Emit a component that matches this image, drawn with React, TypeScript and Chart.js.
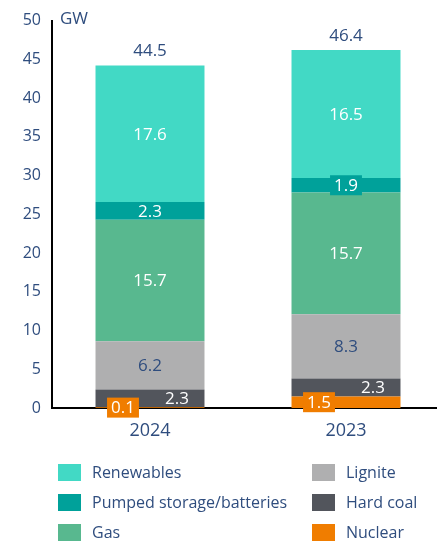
import React, { useEffect, useRef } from "react";
import { Chart, registerables } from "chart.js";

Chart.register(...registerables);

const categories = ["2024", "2023"];
const nuclear = [0.1, 1.5];
const hardCoal = [2.3, 2.3];
const lignite = [6.2, 8.3];
const gas = [15.7, 15.7];
const pumped = [2.3, 1.9];
const renewables = [17.6, 16.5];
const totals = [44.5, 46.4];
const seriesNames = ["Nuclear", "Hard coal", "Lignite", "Gas", "Pumped storage/batteries", "Renewables"];
const yMax = 50;
const yStep = 5;
const unitLabel = "GW";

const BLUE = "#2F4D7E";
const FONT = "'Open Sans', sans-serif";

const seriesValues = [nuclear, hardCoal, lignite, gas, pumped, renewables];
const seriesStyle = [
  { color: "#F07D00", text: "#FFFFFF", dx: -27, box: true },
  { color: "#52555C", text: "#FFFFFF", dx: 27, box: false },
  { color: "#AFAFB0", text: BLUE, dx: 0, box: false },
  { color: "#58B88F", text: "#FFFFFF", dx: 0, box: false },
  { color: "#00A19A", text: "#FFFFFF", dx: 0, box: true },
  { color: "#42D9C5", text: "#FFFFFF", dx: 0, box: false },
];

const labelPlugin = {
  id: "labels",
  afterDatasetsDraw(chart: any) {
    const ctx = chart.ctx;
    ctx.save();
    ctx.font = `17px ${FONT}`;
    ctx.textAlign = "center";
    ctx.textBaseline = "middle";
    chart.data.datasets.forEach((ds: any, i: number) => {
      const st = seriesStyle[i];
      const meta = chart.getDatasetMeta(i);
      meta.data.forEach((bar: any, j: number) => {
        const v = ds.data[j];
        const p = bar.getProps(["x", "y", "base"], true);
        const cx = p.x + st.dx;
        const cy = (p.y + p.base) / 2;
        const txt = v.toFixed(1);
        if (st.box && Math.abs(p.base - p.y) < 17) {
          const w = ctx.measureText(txt).width + 8;
          ctx.fillStyle = st.color;
          ctx.fillRect(cx - w / 2, cy - 10, w, 20);
        }
        ctx.fillStyle = st.text;
        ctx.fillText(txt, cx, cy + 1);
      });
    });
    // totals
    const topMeta = chart.getDatasetMeta(chart.data.datasets.length - 1);
    ctx.fillStyle = BLUE;
    topMeta.data.forEach((bar: any, j: number) => {
      const p = bar.getProps(["x", "y"], true);
      ctx.fillText(totals[j].toFixed(1), p.x, p.y - 14);
    });
    // unit
    ctx.textAlign = "left";
    ctx.font = `17px ${FONT}`;
    ctx.fillText(unitLabel, chart.chartArea.left + 8, chart.chartArea.top - 1);
    ctx.restore();
  },
  afterDraw(chart: any) {
    const ctx = chart.ctx;
    ctx.save();
    ctx.font = `16px ${FONT}`;
    ctx.textAlign = "left";
    ctx.textBaseline = "middle";
    const n = chart.data.datasets.length;
    const colX = [58, 312];
    const rowY = [464, 494, 524];
    for (let k = 0; k < n; k++) {
      const i = n - 1 - k;
      const ds = chart.data.datasets[i];
      const col = k < 3 ? 0 : 1;
      const row = k % 3;
      const x = colX[col];
      const y = rowY[row];
      ctx.fillStyle = ds.backgroundColor;
      ctx.fillRect(x, y, 23, 17);
      ctx.fillStyle = BLUE;
      ctx.fillText(ds.label, x + 34, y + 9);
    }
    ctx.restore();
  },
};

export default function App() {
  const ref = useRef<HTMLCanvasElement>(null);
  useEffect(() => {
    document.body.style.margin = "0";
    const chart = new Chart(ref.current!, {
      type: "bar",
      data: {
        labels: categories,
        datasets: seriesValues.map((vals, i) => ({
          label: seriesNames[i],
          data: vals,
          backgroundColor: seriesStyle[i].color,
          borderWidth: 0,
          categoryPercentage: 1,
          barPercentage: 0.556,
        })),
      },
      options: {
        animation: false,
        responsive: false,
        layout: { padding: { top: 19, bottom: 94, left: 0, right: 0 } },
        plugins: { legend: { display: false }, tooltip: { enabled: false } },
        scales: {
          x: {
            stacked: true,
            grid: { display: false, drawTicks: false },
            border: { display: true, color: "#000", width: 2 },
            ticks: { color: BLUE, font: { family: FONT, size: 18 }, padding: 12 },
            afterFit: (s: any) => {
              s.height = 40;
            },
          },
          y: {
            stacked: true,
            min: 0,
            max: yMax,
            grid: { display: false, drawTicks: false },
            border: { display: true, color: "#000", width: 2 },
            ticks: { stepSize: yStep, color: BLUE, font: { family: FONT, size: 16 }, padding: 11 },
            afterFit: (s: any) => {
              s.width = 52;
            },
          },
        },
      },
      plugins: [labelPlugin],
    });
    return () => chart.destroy();
  }, []);
  return (
    <div style={{ width: 437, height: 542, overflow: "hidden" }}>
      <canvas ref={ref} width={444} height={542} />
    </div>
  );
}
